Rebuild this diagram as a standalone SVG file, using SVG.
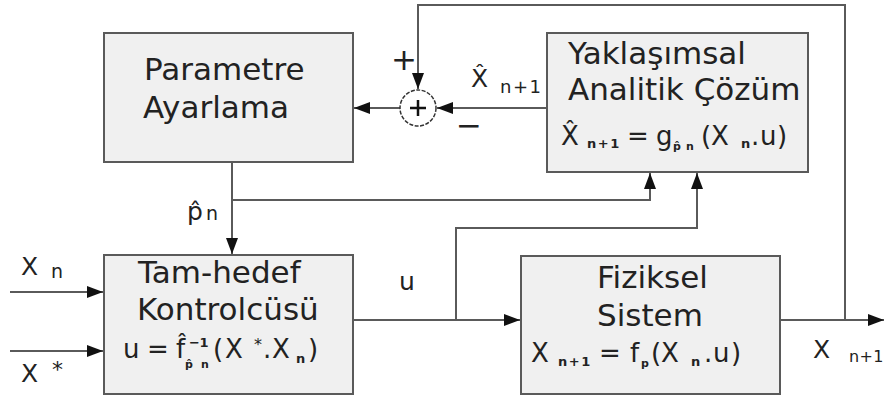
<svg xmlns="http://www.w3.org/2000/svg" width="885" height="398" viewBox="0 0 885 398">
<style>
.box{fill:#f0f0f0;stroke:#5a5a5a;stroke-width:2}
.ln{fill:none;stroke:#5a5a5a;stroke-width:2}
.t{font-family:"DejaVu Sans",sans-serif;font-size:31px;fill:#222}
.f{font-family:"DejaVu Sans",sans-serif;font-size:26px;fill:#222}
.l{font-family:"DejaVu Sans",sans-serif;font-size:25px;fill:#222}
.s{font-size:13px;font-weight:bold}
.ss{font-size:11px;font-weight:bold}
</style>
<defs>
<marker id="ah2" viewBox="0 0 10 10" refX="10" refY="5" markerWidth="16" markerHeight="12" markerUnits="userSpaceOnUse" orient="auto" preserveAspectRatio="none">
<path d="M0,0 L10,5 L0,10 z" fill="#111"/>
</marker>
</defs>
<rect width="885" height="398" fill="#fff"/>
<g id="connectors">
<path class="ln" d="M400,108 H354" marker-end="url(#ah2)"/>
<path class="ln" d="M547,108 H437" marker-end="url(#ah2)"/>
<path class="ln" d="M845,320 V5 H418 V89" marker-end="url(#ah2)"/>
<path class="ln" d="M232,162 V254" marker-end="url(#ah2)"/>
<path class="ln" d="M232,200 H650 V173" marker-end="url(#ah2)"/>
<path class="ln" d="M456,320 V228 H697 V173" marker-end="url(#ah2)"/>
<path class="ln" d="M353,320 H520" marker-end="url(#ah2)"/>
<path class="ln" d="M780,320 H884" marker-end="url(#ah2)"/>
<path class="ln" d="M10,292 H103" marker-end="url(#ah2)"/>
<path class="ln" d="M10,351 H103" marker-end="url(#ah2)"/>
</g>
<g id="sum">
<circle cx="418" cy="108" r="18" fill="#fff" stroke="#333" stroke-width="1.5" stroke-dasharray="4,1.5"/>
<path d="M410,108 H426 M418,100 V116" stroke="#111" stroke-width="2.5"/>
</g>
<g id="param">
<rect class="box" x="104" y="33" width="249" height="129"/>
<text class="t" x="144" y="80">Parametre</text>
<text class="t" x="143" y="118">Ayarlama</text>
</g>
<g id="approx">
<rect class="box" x="547" y="33" width="261" height="139"/>
<text class="t" x="568" y="64">Yaklaşımsal</text>
<text class="t" x="568" y="100">Analitik Çözüm</text>
<text class="f" y="145"><tspan x="561">X̂</tspan><tspan class="s" x="587" y="148" letter-spacing="1.5">n+1</tspan><tspan x="627" y="145">=</tspan><tspan x="656">g</tspan><tspan class="ss" x="673" y="150">p̂</tspan><tspan class="ss" x="686">n</tspan><tspan x="701" y="145">(</tspan><tspan x="711">X</tspan><tspan class="s" x="741" y="148">n</tspan><tspan x="751" y="145">.</tspan><tspan x="760">u</tspan><tspan x="777">)</tspan></text>
</g>
<g id="ctrl">
<rect class="box" x="104" y="255" width="249" height="139"/>
<text class="t" x="138" y="283">Tam-hedef</text>
<text class="t" x="137" y="320">Kontrolcüsü</text>
<text class="f" y="358"><tspan x="123">u</tspan><tspan x="147">=</tspan><tspan x="176">f̂</tspan><tspan class="ss" x="185" y="368">p̂</tspan><tspan class="ss" x="201">n</tspan><tspan class="s" x="189" y="347" letter-spacing="-0.5">−1</tspan><tspan x="213" y="358">(</tspan><tspan x="225">X</tspan><tspan font-size="16" x="254" y="350">*</tspan><tspan x="263" y="358">.</tspan><tspan x="272">X</tspan><tspan class="s" x="296" y="363">n</tspan><tspan x="308" y="358">)</tspan></text>
</g>
<g id="phys">
<rect class="box" x="521" y="256" width="259" height="138"/>
<text class="t" x="597" y="288">Fiziksel</text>
<text class="t" x="597" y="326">Sistem</text>
<text class="f" y="362"><tspan x="531">X</tspan><tspan class="s" x="558" y="366" letter-spacing="1.5">n+1</tspan><tspan x="599" y="362">=</tspan><tspan x="630">f</tspan><tspan class="ss" x="641" y="367">p</tspan><tspan x="651" y="362">(</tspan><tspan x="661">X</tspan><tspan class="s" x="691" y="366">n</tspan><tspan x="704" y="362">.</tspan><tspan x="713">u</tspan><tspan x="731">)</tspan></text>
</g>
<g id="labels">
<text class="t" x="391" y="70" font-size="28">+</text>
<text class="t" x="456" y="136" font-size="28">−</text>
<text class="l" x="471" y="87">X̂<tspan font-size="18" x="500" y="93" letter-spacing="1.5">n+1</tspan></text>
<text class="l" x="187" y="220" font-size="27">p̂<tspan font-size="19" x="206">n</tspan></text>
<text class="l" x="21" y="275">X<tspan font-size="19" x="51" y="278">n</tspan></text>
<text class="l" x="21" y="382">X<tspan font-size="22" x="52" y="377">*</tspan></text>
<text class="l" x="399" y="290" font-size="27">u</text>
<text class="l" x="813" y="358">X<tspan font-size="16" x="849" y="362" letter-spacing="0.3">n+1</tspan></text>
</g>
</svg>
